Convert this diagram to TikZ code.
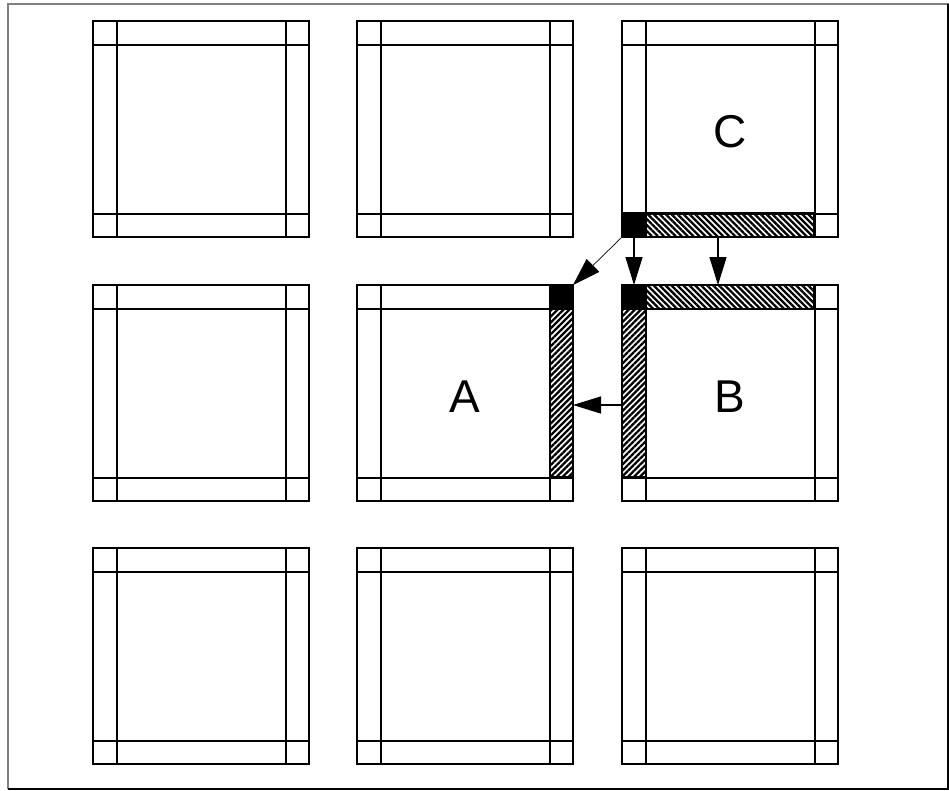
\documentclass[tikz,border=0pt]{standalone}
\usepackage{fontspec}
\setmainfont{Liberation Sans}
\usetikzlibrary{arrows.meta,patterns.meta,calc}
\begin{document}
\begin{tikzpicture}[x=1pt,y=-1pt,
  blk/.style={draw, line width=1.5pt, minimum width=216pt, minimum height=216pt,
    inner sep=0pt, outer sep=0pt},
  lab/.style={font=\fontsize{46}{50}\selectfont, inner sep=0pt},
  cell/.style={draw, line width=1.5pt, inner sep=0pt, outer sep=0pt, anchor=north west},
  blacksq/.style={cell, fill=black},
  hatchnw/.style={cell, pattern={Lines[angle=-45,distance=4.2pt,line width=2.3pt]}},
  hatchne/.style={cell, pattern={Lines[angle=45,distance=4.2pt,line width=2.3pt]}},
  arr/.style={line width=1.3pt, -{Triangle[length=28pt,width=17pt]}},
  thinarr/.style={line width=0.7pt, -{Triangle[length=28pt,width=18pt]}}
]
\useasboundingbox (0,0) rectangle (949,790);
% frame
\draw[gray, line width=1.5pt] (949,4) -- (8,4) -- (8,789);
\draw[black, line width=1.5pt] (8,789) -- (948,789) -- (948,4);
% blocks
\foreach \r/\y in {1/21,2/285,3/548}{
  \foreach \c/\x in {1/93,2/357,3/622}{
    \node[blk] (n\r\c) at (\x+108,\y+108) {};
  }
}
\node[lab] (labC) at ($(n13)+(0,3)$) {C};
\node[lab] (labA) at ($(n22)+(0,4)$) {A};
\node[lab] (labB) at ($(n23)+(0,4)$) {B};
% fills
\node[blacksq, minimum width=24pt, minimum height=24pt] (cK) at (622,213) {};
\node[hatchnw, minimum width=168pt, minimum height=24pt] (cS) at (646,213) {};
\node[blacksq, minimum width=24pt, minimum height=24pt] (bK) at (622,285) {};
\node[hatchnw, minimum width=168pt, minimum height=24pt] (bT) at (646,285) {};
\node[hatchne, minimum width=24pt, minimum height=168pt] (bL) at (622,309) {};
\node[blacksq, minimum width=23pt, minimum height=24pt] (aK) at (550,285) {};
\node[hatchne, minimum width=23pt, minimum height=168pt] (aS) at (550,309) {};
% inner lines
\foreach \r in {1,2,3}{
  \foreach \c in {1,2,3}{
    \draw[line width=1.5pt] ($(n\r\c.north west)+(24,0)$) -- ($(n\r\c.south west)+(24,0)$);
    \draw[line width=1.5pt] ($(n\r\c.north east)+(-23,0)$) -- ($(n\r\c.south east)+(-23,0)$);
    \draw[line width=1.5pt] ($(n\r\c.north west)+(0,24)$) -- ($(n\r\c.north east)+(0,24)$);
    \draw[line width=1.5pt] ($(n\r\c.south west)+(0,-23)$) -- ($(n\r\c.south east)+(0,-23)$);
  }
}
% arrows
\draw[thinarr] (cK.south west) -- (aK.north east);
\draw[arr] (cK.south) -- (bK.north);
\draw[arr] ($(cS.south)+(-12,0)$) -- ($(bT.north)+(-12,0)$);
\draw[arr] ($(bL.west)+(0,12)$) -- ($(aS.east)+(0,12)$);
\end{tikzpicture}
\end{document}
